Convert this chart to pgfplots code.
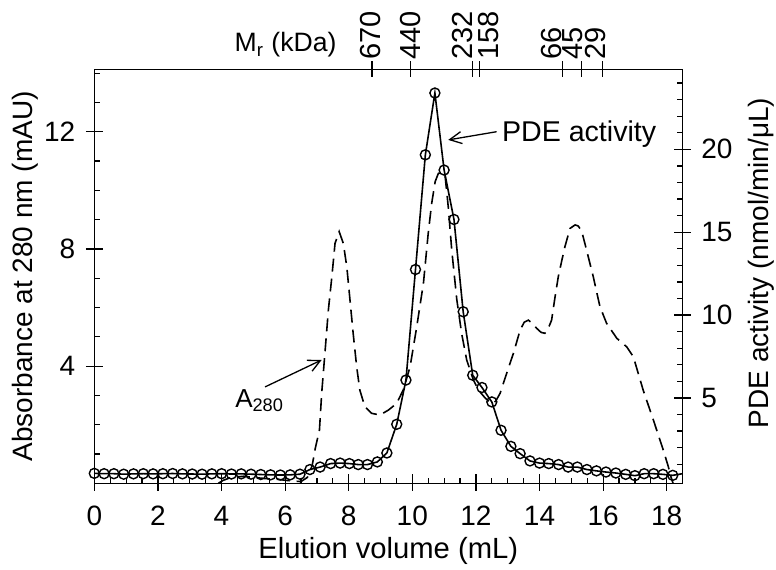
\documentclass[border=0pt]{standalone}
\usepackage{fontspec}
\setmainfont{Liberation Sans}
\usepackage{pgfplots}
\pgfplotsset{compat=1.18}
\usetikzlibrary{arrows.meta}
\tikzset{mr/.style={rotate=90, anchor=west, inner sep=0pt, font=\fontsize{14.5}{16}\selectfont}}
\begin{document}
\begin{tikzpicture}
\useasboundingbox (0pt,0pt) rectangle (388pt,284.5pt);
\pgfplotsset{base/.style={at={(47.15pt,42.85pt)}, anchor=south west, scale only axis,
  width=294pt, height=207pt, xmin=0, xmax=18.49,
  axis line style={line width=0.75pt},
  every tick/.style={line width=0.6pt, black},
  tick label style={font=\fontsize{14}{16}\selectfont},
  /pgf/number format/assume math mode=true,
  label style={font=\fontsize{14}{16}\selectfont}}}
% ---------------- left axis: A280 ----------------
\begin{axis}[base, ymin=0, ymax=14.13,
  xtick={0,2,...,18}, minor x tick num=3,
  ytick={4,8,12}, minor ytick={1,2,3,5,6,7,9,10,11,13,14},
  xtick pos=left, ytick pos=left, tick align=inside,
  major tick length=8.5pt, minor tick length=2.6pt,
  major x tick style={yshift=-3.8pt}, major y tick style={xshift=-4.25pt},
  xticklabel style={yshift=-8pt}, yticklabel style={xshift=-6pt},
  xlabel={Elution volume (mL)},
  xlabel style={at={(axis description cs:0.5,-0.1635)}, anchor=center, font=\fontsize{14.6}{16}\selectfont},
  ylabel={Absorbance at 280 nm (mAU)},
  ylabel style={at={(axis description cs:-0.118,0.5)}, anchor=center}]
\addplot[black, line width=0.8pt, dash pattern=on 6.5pt off 3.5pt] coordinates {
(3.9,0.0) (4.05,0.1) (4.3,0.2) (4.7,0.24) (5.0,0.2) (5.4,0.16) (5.8,0.13) (6.2,0.08) (6.5,0.06)
(6.7,0.2) (6.85,0.6) (6.95,1.2) (7.08,1.82) (7.15,3.07) (7.26,4.55) (7.36,5.91) (7.47,7.05)
(7.57,8.19) (7.70,8.59) (7.83,8.19) (7.94,7.39) (8.04,6.26) (8.14,5.12) (8.25,3.98) (8.35,3.18)
(8.51,2.61) (8.72,2.39) (8.98,2.33) (9.25,2.50) (9.51,2.73) (9.72,3.2) (9.93,3.98) (10.14,5.35)
(10.35,6.83) (10.50,8.53) (10.61,9.56) (10.72,10.3) (10.82,10.58) (10.95,10.6) (11.03,10.5)
(11.13,9.44) (11.24,7.96) (11.4,6.26) (11.55,5.12) (11.71,4.21) (11.92,3.53) (12.08,3.18)
(12.3,2.9) (12.5,2.72) (12.62,2.8) (12.76,3.07) (12.95,3.7) (13.18,4.44) (13.39,5.23) (13.52,5.5)
(13.65,5.57) (13.78,5.45) (13.91,5.29) (14.05,5.15) (14.17,5.12) (14.28,5.3) (14.38,5.57)
(14.48,6.3) (14.59,7.05) (14.70,7.6) (14.80,8.08) (14.96,8.7) (15.12,8.82) (15.22,8.78)
(15.33,8.59) (15.48,7.96) (15.69,7.05) (15.90,6.03) (16.11,5.46) (16.43,4.95) (16.74,4.66)
(16.95,4.32) (17.26,3.18) (17.58,2.16) (17.89,1.14) (18.05,0.57) (18.13,0.23) (18.2,0.0)};
\draw[-{Straight Barb[length=6pt,width=6pt]}, line width=0.65pt] (axis cs:12.65,12.0) -- (axis cs:11.13,11.72);
\node[anchor=base west, inner sep=0pt, font=\fontsize{14.3}{16}\selectfont] at (axis cs:12.81,11.66) {PDE activity};
\draw[-{Straight Barb[length=6pt,width=6pt]}, line width=0.65pt] (axis cs:5.37,3.29) -- (axis cs:7.15,4.21);
\node[anchor=base west, inner sep=0pt, font=\fontsize{13}{16}\selectfont] at (axis cs:4.42,2.60) {A\textsubscript{280}};
\end{axis}
% ---------------- right axis: PDE activity ----------------
\begin{axis}[base, ymin=-0.15, ymax=24.83,
  axis x line=none, axis y line*=right,
  ytick={5,10,15,20}, minor ytick={1,2,3,4,6,7,8,9,11,12,13,14,16,17,18,19,21,22,23,24},
  tick align=inside, major tick length=8.5pt, minor tick length=2.6pt,
  major y tick style={xshift=4.25pt}, yticklabel style={xshift=6pt},
  ylabel={PDE activity (nmol/min/μL)},
  ylabel style={at={(axis description cs:1.134,0.532)}, anchor=center}]
\addplot[black, line width=0.8pt, mark=o, mark size=2.5pt, mark options={solid, line width=0.7pt}] coordinates {
(0,0.45) (0.308,0.43) (0.616,0.43) (0.924,0.40) (1.232,0.42) (1.54,0.43) (1.848,0.42) (2.156,0.43)
(2.464,0.44) (2.772,0.42) (3.08,0.41) (3.388,0.40) (3.696,0.42) (4.004,0.43) (4.312,0.41) (4.62,0.42)
(4.928,0.40) (5.236,0.38) (5.544,0.36) (5.852,0.35) (6.16,0.36) (6.468,0.40)
(6.78,0.68) (7.10,0.83) (7.43,1.04) (7.73,1.07) (8.02,1.04) (8.30,0.98) (8.59,0.98) (8.90,1.14)
(9.20,1.68) (9.51,3.41) (9.80,6.08) (10.10,12.75) (10.41,19.67) (10.71,23.4) (11.0,18.75) (11.31,15.77)
(11.60,10.2) (11.90,6.37) (12.19,5.63) (12.50,4.76) (12.79,3.05) (13.10,2.08) (13.39,1.64) (13.70,1.20)
(14.00,1.07) (14.29,1.04) (14.60,0.98) (14.90,0.83) (15.19,0.83) (15.49,0.68) (15.79,0.60) (16.09,0.53)
(16.40,0.47) (16.71,0.39) (17.00,0.31) (17.29,0.43) (17.59,0.43) (17.88,0.39) (18.19,0.33) (18.50,0.43)};
\end{axis}
% ---------------- top axis: molecular mass markers ----------------
\begin{axis}[base, ymin=0, ymax=1, axis y line=none, axis x line*=top, clip=false,
  xtick={8.73,9.95,11.90,12.11,14.73,15.33,15.99},
  xticklabels={}, tick align=center, major tick length=8pt, minor tick num=0]
\node[mr] at (rel axis cs:0.470,1.0217) {670};
\node[mr] at (rel axis cs:0.538,1.0217) {440};
\node[mr] at (rel axis cs:0.626,1.0217) {232};
\node[mr] at (rel axis cs:0.671,1.0217) {158};
\node[mr] at (rel axis cs:0.778,1.0217) {66};
\node[mr] at (rel axis cs:0.813,1.0217) {45};
\node[mr] at (rel axis cs:0.852,1.0217) {29};
\node[anchor=base west, inner sep=0pt, font=\fontsize{13.3}{16}\selectfont] at (rel axis cs:0.238,1.0418) {M\textsubscript{r} (kDa)};
\end{axis}
\end{tikzpicture}
\end{document}
